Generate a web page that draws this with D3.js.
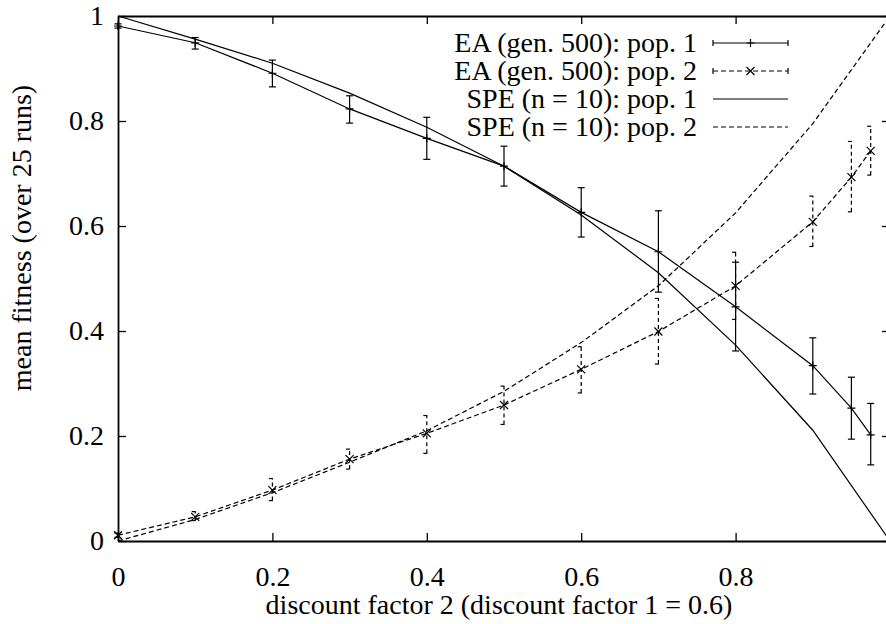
<!DOCTYPE html>
<html>
<head>
<meta charset="utf-8">
<script src="https://cdn.jsdelivr.net/npm/d3@7"></script>
<style>
  html, body { margin: 0; padding: 0; background: #fff; overflow: hidden; }
  svg { display: block; font-family: 'Liberation Serif', 'Times New Roman', serif; }
  .axis text { font-size: 28px; fill: #000; }
  .axis line, .axis path { stroke: #000; }
</style>
</head>
<body>
<div id="chart"></div>
<script>
// EA results (gen. 500), mean with error bars
const xEA = [0, 0.1, 0.2, 0.3, 0.4, 0.5, 0.6, 0.7, 0.8, 0.9, 0.95, 0.975]
const ea1Mean = [0.981, 0.949, 0.891, 0.823, 0.767, 0.714, 0.626, 0.551, 0.446, 0.334, 0.253, 0.202]
const ea1Lo = [0.977, 0.937, 0.865, 0.796, 0.727, 0.676, 0.579, 0.474, 0.362, 0.280, 0.194, 0.145]
const ea1Hi = [0.985, 0.959, 0.916, 0.848, 0.807, 0.752, 0.673, 0.629, 0.531, 0.387, 0.312, 0.262]
const ea2Mean = [0.011, 0.046, 0.097, 0.156, 0.205, 0.259, 0.327, 0.399, 0.486, 0.608, 0.693, 0.743]
const ea2Lo = [0.007, 0.039, 0.077, 0.137, 0.167, 0.222, 0.282, 0.337, 0.422, 0.561, 0.627, 0.697]
const ea2Hi = [0.015, 0.056, 0.119, 0.175, 0.239, 0.295, 0.370, 0.462, 0.550, 0.657, 0.761, 0.790]

// SPE (n = 10)
const xSPE = [0, 0.1, 0.2, 0.3, 0.4, 0.5, 0.6, 0.7, 0.8, 0.9, 1.0]
const spe1 = [1.0, 0.956, 0.910, 0.853, 0.788, 0.714, 0.621, 0.511, 0.373, 0.211, 0.0]
const spe2 = [0.0, 0.041, 0.092, 0.150, 0.210, 0.285, 0.378, 0.486, 0.625, 0.795, 1.0]

const xTicks = [0, 0.2, 0.4, 0.6, 0.8, 1.0]
const xTickLabels = ['0', '0.2', '0.4', '0.6', '0.8', '']
const yTicks = [0, 0.2, 0.4, 0.6, 0.8, 1.0]
const yTickLabels = ['0', '0.2', '0.4', '0.6', '0.8', '1']
const legendLabels = ['EA (gen. 500): pop. 1', 'EA (gen. 500): pop. 2', 'SPE (n = 10): pop. 1', 'SPE (n = 10): pop. 2']

const width = 886
const height = 624
const margin = { top: 16, right: -4, bottom: 83, left: 118 }
const innerWidth = width - margin.left - margin.right
const innerHeight = height - margin.top - margin.bottom
const DASH = '5,3'

const svg = d3.select('#chart')
  .append('svg')
  .attr('width', width)
  .attr('height', height)

const x = d3.scaleLinear().domain([0, 1]).range([0, innerWidth])
const y = d3.scaleLinear().domain([0, 1]).range([innerHeight, 0])

const g = svg.append('g')
  .attr('transform', `translate(${margin.left},${margin.top})`)

// Axes, gnuplot style: ticks point inwards on all four sides
const fmtX = (d) => xTickLabels[xTicks.indexOf(d)]
const fmtY = (d) => yTickLabels[yTicks.indexOf(d)]

g.append('g')
  .attr('class', 'axis')
  .attr('transform', `translate(0,${innerHeight})`)
  .call(d3.axisBottom(x).tickValues(xTicks).tickFormat(fmtX).tickSize(-8).tickSizeOuter(0).tickPadding(25))
g.append('g')
  .attr('class', 'axis')
  .call(d3.axisLeft(y).tickValues(yTicks).tickFormat(fmtY).tickSize(-8).tickSizeOuter(0).tickPadding(14))
g.append('g')
  .attr('class', 'axis')
  .call(d3.axisTop(x).tickValues(xTicks).tickFormat('').tickSize(-8).tickSizeOuter(0))
g.append('g')
  .attr('class', 'axis')
  .attr('transform', `translate(${innerWidth},0)`)
  .call(d3.axisRight(y).tickValues(yTicks).tickFormat('').tickSize(-8).tickSizeOuter(0))

// drop empty tick labels (top/right axes and the clipped x = 1 label)
g.selectAll('.axis text').filter(function () { return this.textContent === '' }).remove()
g.selectAll('.axis path').attr('stroke-width', 1.8)
g.selectAll('.axis line').attr('stroke-width', 1.3)
g.selectAll('.axis text').attr('font-family', "'Liberation Serif', 'Times New Roman', serif")

// Axis titles
svg.append('text')
  .attr('x', margin.left + x(0.5) - 5)
  .attr('y', 614)
  .attr('text-anchor', 'middle')
  .attr('font-size', 28)
  .text('discount factor 2 (discount factor 1 = 0.6)')

svg.append('text')
  .attr('transform', `translate(31,${margin.top + y(0.6) + 12}) rotate(-90)`)
  .attr('text-anchor', 'middle')
  .attr('font-size', 28)
  .text('mean fitness (over 25 runs)')

// Lines
const line = d3.line().x((d) => x(d[0])).y((d) => y(d[1]))

function drawLine(xs, ys, dashed) {
  g.append('path')
    .datum(xs.map((v, i) => [v, ys[i]]))
    .attr('fill', 'none')
    .attr('stroke', '#000')
    .attr('stroke-width', 1.2)
    .attr('stroke-dasharray', dashed ? DASH : null)
    .attr('d', line)
}

function drawErrorBars(xs, mean, lo, hi, dashed, marker) {
  const cap = 3.5
  const pts = xs.map((v, i) => ({ x: v, m: mean[i], lo: lo[i], hi: hi[i] }))
  const eb = g.append('g')
    .attr('stroke', '#000')
    .attr('stroke-width', 1.2)
    .attr('stroke-dasharray', dashed ? '4,3' : null)
  eb.selectAll('.v').data(pts).join('line')
    .attr('x1', (d) => x(d.x)).attr('x2', (d) => x(d.x))
    .attr('y1', (d) => y(d.lo)).attr('y2', (d) => y(d.hi))
  eb.selectAll('.ct').data(pts).join('line')
    .attr('x1', (d) => x(d.x) - cap).attr('x2', (d) => x(d.x) + cap)
    .attr('y1', (d) => y(d.hi)).attr('y2', (d) => y(d.hi))
    .attr('stroke-dasharray', null)
  eb.selectAll('.cb').data(pts).join('line')
    .attr('x1', (d) => x(d.x) - cap).attr('x2', (d) => x(d.x) + cap)
    .attr('y1', (d) => y(d.lo)).attr('y2', (d) => y(d.lo))
    .attr('stroke-dasharray', null)
  const mk = g.append('g').attr('stroke', '#000').attr('stroke-width', 1.2)
  pts.forEach((d) => drawMarker(mk, x(d.x), y(d.m), marker))
}

function drawMarker(sel, cx, cy, type) {
  const s = 4
  if (type === 'plus') {
    sel.append('path').attr('d', `M${cx - s},${cy}H${cx + s}M${cx},${cy - s}V${cy + s}`)
  } else {
    sel.append('path').attr('d', `M${cx - s},${cy - s}L${cx + s},${cy + s}M${cx - s},${cy + s}L${cx + s},${cy - s}`)
  }
}

drawLine(xSPE, spe1, false)
drawLine(xSPE, spe2, true)
drawLine(xEA, ea1Mean, false)
drawLine(xEA, ea2Mean, true)
drawErrorBars(xEA, ea1Mean, ea1Lo, ea1Hi, false, 'plus')
drawErrorBars(xEA, ea2Mean, ea2Lo, ea2Hi, true, 'cross')

// Legend
const legendTextX = 697
const sampleX1 = 713
const sampleX2 = 788
const rowY = (i) => 43 + i * 28
const legend = svg.append('g')
legendLabels.forEach((label, i) => {
  const cy = rowY(i)
  legend.append('text')
    .attr('x', legendTextX)
    .attr('y', cy + 9)
    .attr('text-anchor', 'end')
    .attr('font-size', 28)
    .text(label)
  const dashed = i % 2 === 1
  legend.append('line')
    .attr('x1', sampleX1).attr('x2', sampleX2)
    .attr('y1', cy).attr('y2', cy)
    .attr('stroke', '#000')
    .attr('stroke-width', 1.2)
    .attr('stroke-dasharray', dashed ? DASH : null)
  if (i < 2) {
    const lg = legend.append('g').attr('stroke', '#000').attr('stroke-width', 1.2)
    lg.append('path').attr('d', `M${sampleX1},${cy - 3}V${cy + 3}M${sampleX2},${cy - 3}V${cy + 3}`)
    drawMarker(lg, (sampleX1 + sampleX2) / 2, cy, i === 0 ? 'plus' : 'cross')
  }
})
</script>
</body>
</html>
